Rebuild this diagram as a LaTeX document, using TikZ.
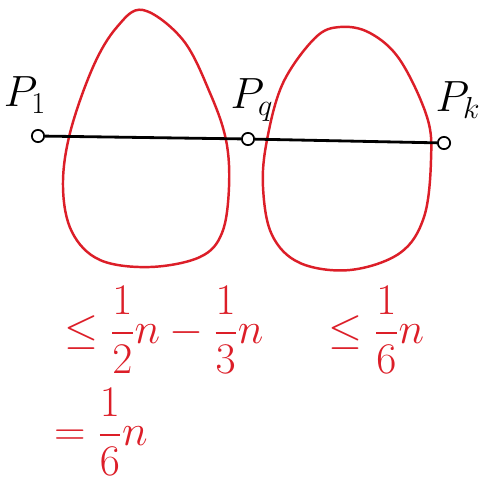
\documentclass[tikz,border=0pt]{standalone}
\usepackage{amsmath}
\definecolor{ink}{RGB}{220,30,40}
\tikzset{
  egg/.style={draw=ink, line width=1.4pt},
  pt/.style={circle, draw=black, line width=1pt, minimum size=7pt, inner sep=0pt},
  plab/.style={font=\fontsize{26}{30}\selectfont},
  rlab/.style={text=ink, font=\fontsize{23}{27}\selectfont, anchor=west},
}
\begin{document}
\begin{tikzpicture}[x=0.02cm,y=-0.02cm]
\useasboundingbox (0,0) rectangle (496,483);
\draw[egg] plot[smooth cycle, tension=0.6] coordinates {(143,10) (183,40) (210,93) (226,140) (229,187) (222,233) (200,257) (150,267) (100,260) (72,232) (63,187) (70,133) (93,67) (117,27)};
\draw[egg] plot[smooth cycle, tension=0.6] coordinates {(340,27) (370,33) (400,60) (427,117) (431,160) (424,217) (400,253) (350,270) (300,263) (272,235) (263,187) (267,140) (283,83) (315,38)};
\node[pt] (p1) at (38,136) {};
\node[pt] (pq) at (248,139) {};
\node[pt] (pk) at (444,143) {};
\draw[line width=1.6pt] (p1) -- (pq);
\draw[line width=1.6pt] (pq) -- (pk);
\node[plab] (l1) at (25,95) {$P_1$};
\node[plab] (lq) at (252,100) {$P_q$};
\node[plab] (lk) at (458,100) {$P_k$};
\node[rlab] (e1) at (58,330) {$\le \dfrac{1}{2}n - \dfrac{1}{3}n$};
\node[rlab] (e2) at (322,330) {$\le \dfrac{1}{6}n$};
\node[rlab] (e3) at (48,432) {$= \dfrac{1}{6}n$};
\end{tikzpicture}
\end{document}
